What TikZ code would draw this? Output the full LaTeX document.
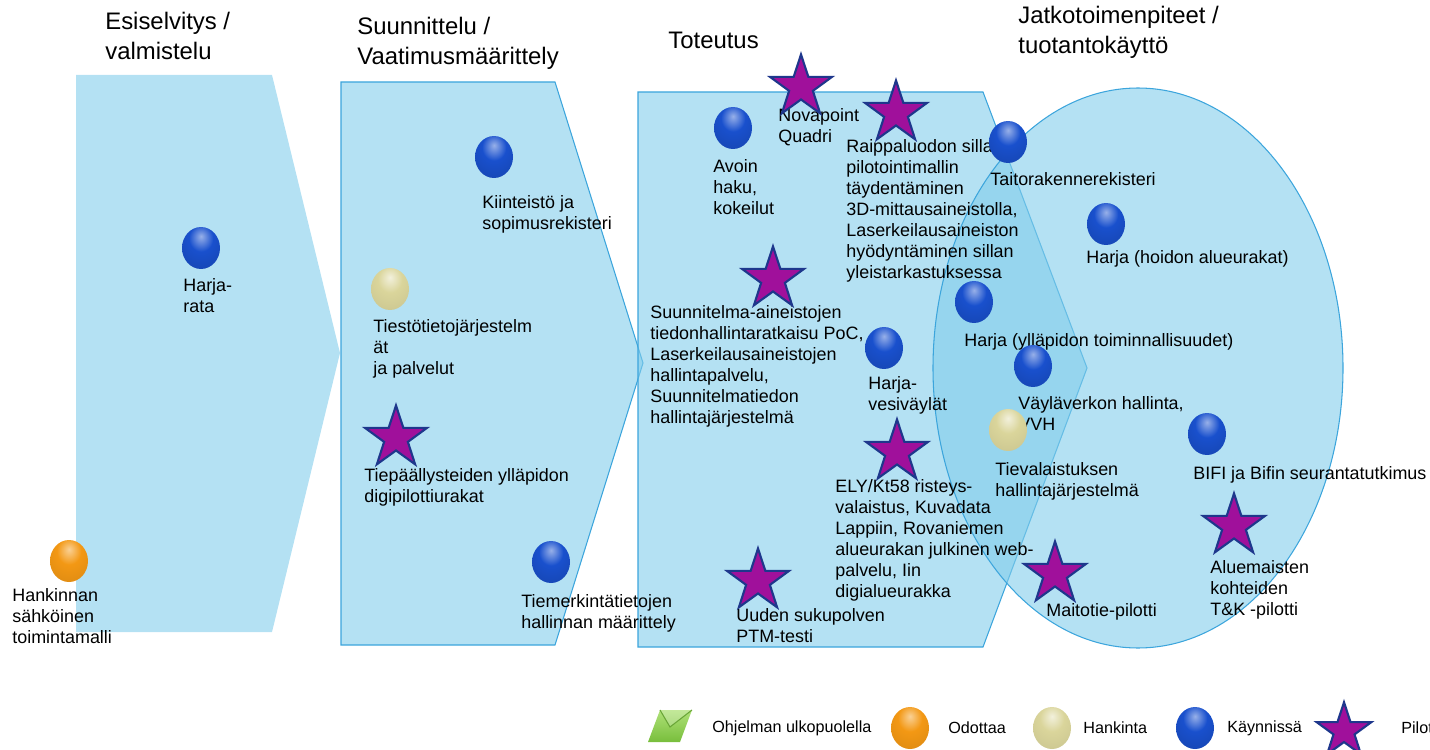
\documentclass[tikz,border=0pt]{standalone}
\usepackage{fontspec}
\setmainfont{Liberation Sans}
\usetikzlibrary{shapes.geometric}

\definecolor{vaihevari}{RGB}{130,205,235}
\definecolor{reuna}{RGB}{60,165,220}
\definecolor{sininen}{RGB}{25,80,205}
\definecolor{oranssi}{RGB}{243,152,20}
\definecolor{hiekka}{RGB}{218,213,155}
\definecolor{violetti}{RGB}{160,16,155}
\definecolor{tahtireuna}{RGB}{30,55,140}
\definecolor{vihrea}{RGB}{120,190,60}
\definecolor{vihreavaalea}{RGB}{175,225,120}
\definecolor{vihreatumma}{RGB}{105,165,55}

\pgfdeclareradialshading{sininenpallo}{\pgfpoint{0bp}{14bp}}{color(0bp)=(sininen!45!white); color(16bp)=(sininen); color(42bp)=(sininen!85!black); color(62bp)=(sininen!55!black); color(100bp)=(sininen!55!black)}
\pgfdeclareradialshading{oranssipallo}{\pgfpoint{0bp}{14bp}}{color(0bp)=(oranssi!45!white); color(16bp)=(oranssi); color(42bp)=(oranssi!90!black); color(62bp)=(oranssi!70!black); color(100bp)=(oranssi!70!black)}
\pgfdeclareradialshading{hiekkapallo}{\pgfpoint{0bp}{14bp}}{color(0bp)=(hiekka!35!white); color(16bp)=(hiekka); color(42bp)=(hiekka!92!black); color(62bp)=(hiekka!72!black); color(100bp)=(hiekka!72!black)}

\tikzset{
  vaihe/.style={fill=vaihevari, fill opacity=0.6, draw=reuna, line width=0.6pt},
  pallo/.style={ellipse, minimum width=0.76cm, minimum height=0.84cm, inner sep=0pt, shading=#1pallo},
  pallo/.default=sininen,
  tahti/.style={star, star points=5, star point ratio=2.6, minimum size=1.3cm, inner sep=0pt, fill=violetti, draw=tahtireuna, line width=1.2pt},
  teksti/.style={anchor=north west, inner sep=0pt, align=left, font=\fontsize{10.2}{12}\selectfont},
  otsikko/.style={anchor=north west, inner sep=0pt, align=left, font=\fontsize{13.6}{17}\selectfont},
  selite/.style={anchor=west, inner sep=0pt, font=\fontsize{9.2}{11}\selectfont}
}

\begin{document}
\begin{tikzpicture}[x=0.02cm, y=-0.02cm]
\useasboundingbox (0,0) rectangle (1430,750);

% vaiheet
\fill[vaihevari, fill opacity=0.6] (76,75) -- (272,75) -- (340,353) -- (272,632) -- (76,632) -- cycle;
\draw[vaihe] (341,82) -- (555,82) -- (643,363) -- (555,645) -- (341,645) -- cycle;
\draw[vaihe] (638,92) -- (983,92) -- (1087,368) -- (983,647) -- (638,647) -- cycle;
\draw[vaihe] (1138,368) ellipse [x radius=205, y radius=280];

% otsikot
\node[otsikko] (esiselvitys) at (105,12) {Esiselvitys /\\valmistelu};
\node[otsikko] (suunnittelu) at (357,17) {Suunnittelu /\\Vaatimusmäärittely};
\node[otsikko] (toteutus) at (668,32) {Toteutus};
\node[otsikko] (jatko) at (1018,6) {Jatkotoimenpiteet /\\tuotantokäyttö};

% tekstit
\node[teksti] (harjarata-t) at (183,278) {Harja-\\rata};
\node[teksti] (hankinnan-t) at (12,588) {Hankinnan\\sähköinen\\toimintamalli};
\node[teksti] (kiinteisto-t) at (482,195) {Kiinteistö ja\\sopimusrekisteri};
\node[teksti] (tiesto-t) at (373,319) {Tiestötietojärjestelm\\ät\\ja palvelut};
\node[teksti] (tiepaal-t) at (364,468) {Tiepäällysteiden ylläpidon\\digipilottiurakat};
\node[teksti] (tiemerk-t) at (521,594) {Tiemerkintätietojen\\hallinnan määrittely};
\node[teksti] (avoin-t) at (713,159) {Avoin\\haku,\\kokeilut};
\node[teksti] (novapoint-t) at (778,108) {Novapoint\\Quadri};
\node[teksti] (raippa-t) at (846,139) {Raippaluodon sillan\\pilotointimallin\\täydentäminen\\3D-mittausaineistolla,\\Laserkeilausaineiston\\hyödyntäminen sillan\\yleistarkastuksessa};
\node[teksti] (suunnitelma-t) at (650,305) {Suunnitelma-aineistojen\\tiedonhallintaratkaisu PoC,\\Laserkeilausaineistojen\\hallintapalvelu,\\Suunnitelmatiedon\\hallintajärjestelmä};
\node[teksti] (vesi-t) at (868,376) {Harja-\\vesiväylät};
\node[teksti] (ely-t) at (835,479) {ELY/Kt58 risteys-\\valaistus, Kuvadata\\Lappiin, Rovaniemen\\alueurakan julkinen web-\\palvelu, Iin\\digialueurakka};
\node[teksti] (uuden-t) at (736,608) {Uuden sukupolven\\PTM-testi};
\node[teksti] (taito-t) at (990,172) {Taitorakennerekisteri};
\node[teksti] (hoidon-t) at (1086,250) {Harja (hoidon alueurakat)};
\node[teksti] (yllap-t) at (964,333) {Harja (ylläpidon toiminnallisuudet)};
\node[teksti] (vayla-t) at (1018,396) {Väyläverkon hallinta,\\VVH};
\node[teksti] (tieval-t) at (995,462) {Tievalaistuksen\\hallintajärjestelmä};
\node[teksti] (bifi-t) at (1193,466) {BIFI ja Bifin seurantatutkimus};
\node[teksti] (alue-t) at (1210,560) {Aluemaisten\\kohteiden\\T\&K -pilotti};
\node[teksti] (maito-t) at (1046,603) {Maitotie-pilotti};

% pallot
\node[pallo] (harjarata) at (201,248) {};
\node[pallo=oranssi] (hankinnan) at (69,561) {};
\node[pallo] (kiinteisto) at (494,157) {};
\node[pallo=hiekka] (tiesto) at (390,289) {};
\node[pallo] (tiemerk) at (551,562) {};
\node[pallo] (avoin) at (733,128) {};
\node[pallo] (vesi) at (884,348) {};
\node[pallo] (taito) at (1008,142) {};
\node[pallo] (hoidon) at (1106,224) {};
\node[pallo] (yllap) at (974,302) {};
\node[pallo] (vayla) at (1033,366) {};
\node[pallo=hiekka] (tieval) at (1008,430) {};
\node[pallo] (bifi) at (1207,434) {};

% tahdet
\node[tahti] (novapoint) at (801,87) {};
\node[tahti] (raippa) at (896,113) {};
\node[tahti] (suunnitelma) at (773,279) {};
\node[tahti] (tiepaal) at (396,438) {};
\node[tahti] (ely) at (897,452) {};
\node[tahti] (uuden) at (758,581) {};
\node[tahti] (maito) at (1055,574) {};
\node[tahti] (alue) at (1234,526) {};

% selite
\shade[top color=vihreavaalea, bottom color=vihrea] (660,710) -- (692,710) -- (680,742) -- (648,742) -- cycle;
\fill[white, opacity=0.25] (660,710) -- (692,710) -- (670,727) -- cycle;
\draw[vihreatumma, line width=0.6pt] (660,710) -- (670,727) -- (692,710);
\node[selite] (ulko-s) at (712,728) {Ohjelman ulkopuolella};
\node[pallo=oranssi] (odottaa) at (910,728) {};
\node[selite] (odottaa-s) at (948,728) {Odottaa};
\node[pallo=hiekka] (hankinta) at (1052,728) {};
\node[selite] (hankinta-s) at (1083,728) {Hankinta};
\node[pallo] (kaynnissa) at (1195,728) {};
\node[selite] (kaynnissa-s) at (1227,728) {Käynnissä};
\node[tahti, minimum size=1.15cm] (pilotti) at (1344,731) {};
\node[selite] (pilotti-s) at (1401,728) {Pilotti};
\end{tikzpicture}
\end{document}
